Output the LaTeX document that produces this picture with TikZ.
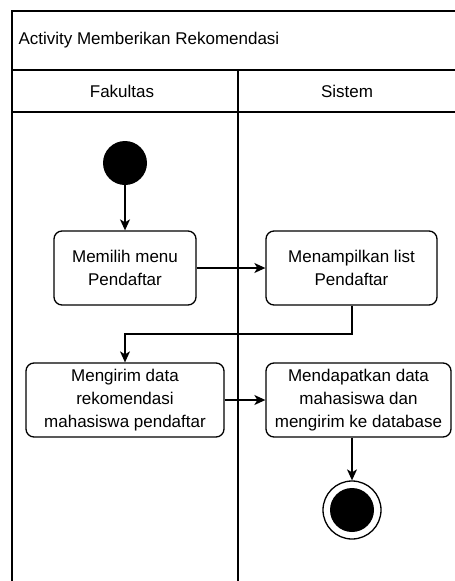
\documentclass[tikz,border=0pt]{standalone}
\usepackage{fontspec}
\setmainfont{Liberation Sans}
\usepackage{tikz}
\usetikzlibrary{arrows.meta}
\usetikzlibrary{positioning}
\tikzset{act/.style = {draw, rounded corners = 8pt, line width = 1.3pt, align = center,
    inner sep = 0, font = \fontsize{17}{22.7}\selectfont}}
\tikzset{flow/.style = {line width = 1.3pt, -{Stealth[length = 11pt, width = 10pt, inset = 3pt]}}}
\tikzset{lane/.style = {font = \fontsize{17}{20}\selectfont}}

\begin{document}
\begin{tikzpicture}[x=1pt, y=-1pt]
    \useasboundingbox (0, 0) rectangle (455, 581);
    \draw [line width = 1.3pt] (455, 11) -- (12, 11) -- (12, 581);
    \draw [line width = 1.3pt] (12, 70) -- (455, 70);
    \draw [line width = 1.3pt] (12, 112) -- (455, 112);
    \draw [line width = 1.3pt] (238, 70) -- (238, 581);
    \node [lane, anchor = west] (judul) at (15, 40) {Activity Memberikan Rekomendasi};
    \node [lane] (fakultas) at (122, 91) {Fakultas};
    \node [lane] (sistem) at (347, 91) {Sistem};

    \node [fill, circle, inner sep = 0, minimum size = 44] (start) at (125, 163) {};
    \node [act, minimum width = 142, minimum height = 74] (memilih) at (125, 268)
        {Memilih menu\\Pendaftar};
    \node [act, minimum width = 171, minimum height = 74] (tampil) at (351.5, 268)
        {Menampilkan list\\Pendaftar};
    \node [act, minimum width = 198, minimum height = 74] (kirim) at (125, 400)
        {Mengirim data\\rekomendasi\\mahasiswa pendaftar};
    \node [act, minimum width = 185, minimum height = 74] (dapat) at (358.5, 400)
        {Mendapatkan data\\mahasiswa dan\\mengirim ke database};
    \node [draw, circle, line width = 1.3pt, inner sep = 0, minimum size = 58] (finish) at (352, 510) {};
    \node [fill, circle, inner sep = 0, minimum size = 44] (finishdot) at (finish) {};

    \coordinate (bend) at (125, 334);
    \draw [flow] (start) -- (memilih);
    \draw [flow] (memilih) -- (tampil);
    \draw [flow] (tampil.south -| finish) |- (bend) -- (kirim.north);
    \draw [flow] (kirim) -- (dapat);
    \draw [flow] (dapat.south -| finish) -- (finish.north);
  \end{tikzpicture}
\end{document}
